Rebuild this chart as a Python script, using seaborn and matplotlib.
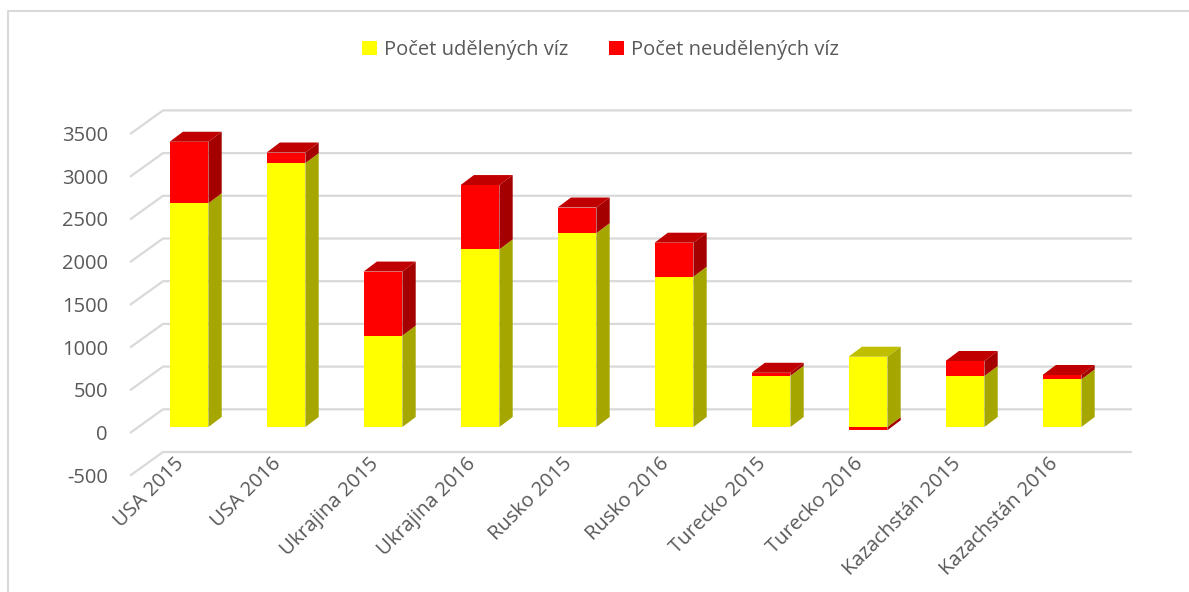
import numpy as np
import pandas as pd
import seaborn as sns
import matplotlib.pyplot as plt
from matplotlib.patches import Polygon, Patch
from matplotlib.lines import Line2D

categories = ['USA 2015', 'USA 2016', 'Ukrajina 2015', 'Ukrajina 2016', 'Rusko 2015',
              'Rusko 2016', 'Turecko 2015', 'Turecko 2016', 'Kazachstán 2015', 'Kazachstán 2016']
granted = [2620, 3090, 1070, 2080, 2270, 1760, 600, 823, 597, 558]
refused = [720, 124, 750, 753, 300, 398, 35, -38, 176, 51]
yticks = [-500, 0, 500, 1000, 1500, 2000, 2500, 3000, 3500]

granted = np.array(granted)
refused = np.array(refused)
# red drawn as total behind the yellow; negative values go down from zero
red_height = np.where(refused >= 0, granted + refused, refused)

df = pd.DataFrame({'zeme': categories, 'udelene': granted, 'cervene': red_height})

sns.set_style("white")
plt.rcParams['font.family'] = ['Open Sans', 'DejaVu Sans']

W, H = 1189, 592
fig = plt.figure(figsize=(W / 100, H / 100), dpi=100)

# pixel mapping: bar i centre at 189 + 97*i, value v at 427 - 0.0854*v
px_per_cat = 97.0
px_per_val = 42.7 / 500
x0_px, y0_px = 189.0, 427.0
left_px, right_px, top_px, bot_px = 110, 1150, 95, 480
ax = fig.add_axes([left_px / W, 1 - bot_px / H, (right_px - left_px) / W, (bot_px - top_px) / H])

sns.barplot(data=df, x='zeme', y='cervene', color='#FF0000', saturation=1, width=0.4,
            linewidth=0, ax=ax, zorder=3)
sns.barplot(data=df, x='zeme', y='udelene', color='#FFFF00', saturation=1, width=0.4,
            linewidth=0, ax=ax, zorder=3)

ax.set_xlim((left_px - x0_px) / px_per_cat, (right_px - x0_px) / px_per_cat)
ax.set_ylim((y0_px - bot_px) / px_per_val, (y0_px - top_px) / px_per_val)
ax.set_xlabel('')
ax.set_ylabel('')
ax.set_xticks([])
ax.set_yticks([])
for s in ax.spines.values():
    s.set_visible(False)

# 3d-ish depth
w = 0.4
dx = 13.3 / px_per_cat
dy = 10 / px_per_val
back_dy = (427 - 409.3) / px_per_val
floor_dy = (427 - 433) / px_per_val
label_dy = (427 - 435) / px_per_val
back_x = (163 - x0_px) / px_per_cat
front_x = (130 - x0_px) / px_per_cat
end_x = (1132 - x0_px) / px_per_cat

grid_col = '#D9D9D9'
for v in yticks:
    ax.plot([front_x, back_x, end_x], [v + floor_dy, v + back_dy, v + back_dy],
            color=grid_col, lw=1.6, zorder=1, solid_capstyle='butt')
    ax.text((108 - x0_px) / px_per_cat, v + label_dy, str(v), ha='right', va='center',
            fontsize=14.5, color='#595959')


def box_faces(i, y_lo, y_hi, side_col, top_col, draw_top):
    xr = i + w / 2
    xl = i - w / 2
    ax.add_patch(Polygon([(xr, y_lo), (xr + dx, y_lo + dy), (xr + dx, y_hi + dy), (xr, y_hi)],
                         closed=True, fc=side_col, ec='none', zorder=2))
    if draw_top:
        ax.add_patch(Polygon([(xl, y_hi), (xl + dx, y_hi + dy), (xr + dx, y_hi + dy), (xr, y_hi)],
                             closed=True, fc=top_col, ec='none', zorder=2))


for i in range(len(categories)):
    g, r = granted[i], refused[i]
    if r >= 0:
        box_faces(i, 0, g, '#A6A600', '#BFBF00', False)
        box_faces(i, g, g + r, '#A50000', '#C00000', True)
    else:
        box_faces(i, r, 0, '#A50000', '#C00000', False)
        box_faces(i, 0, g, '#A6A600', '#BFBF00', True)

# category labels
for i, c in enumerate(categories):
    ax.text(i - 0.15, (427 - 454) / px_per_val, c, rotation=45, ha='right', va='top',
            rotation_mode='anchor', fontsize=14.5, color='#595959', clip_on=False)

# legend
handles = [Patch(fc='#FFFF00', ec='none', label='Počet udělených víz'),
           Patch(fc='#FF0000', ec='none', label='Počet neudělených víz')]
leg = fig.legend(handles=handles, loc='center', bbox_to_anchor=(0.505, 1 - 50 / H), ncol=2,
                 frameon=False, fontsize=14.5, handlelength=0.75, handleheight=0.75,
                 handletextpad=0.35, columnspacing=2.0)
for t in leg.get_texts():
    t.set_color('#595959')

# outer frame (top and left)
fig.add_artist(Line2D([8 / W, 8 / W, 1.0], [0, 1 - 11 / H, 1 - 11 / H],
                      transform=fig.transFigure, color='#D9D9D9', lw=1.5))

plt.savefig('out.png', dpi=100)
